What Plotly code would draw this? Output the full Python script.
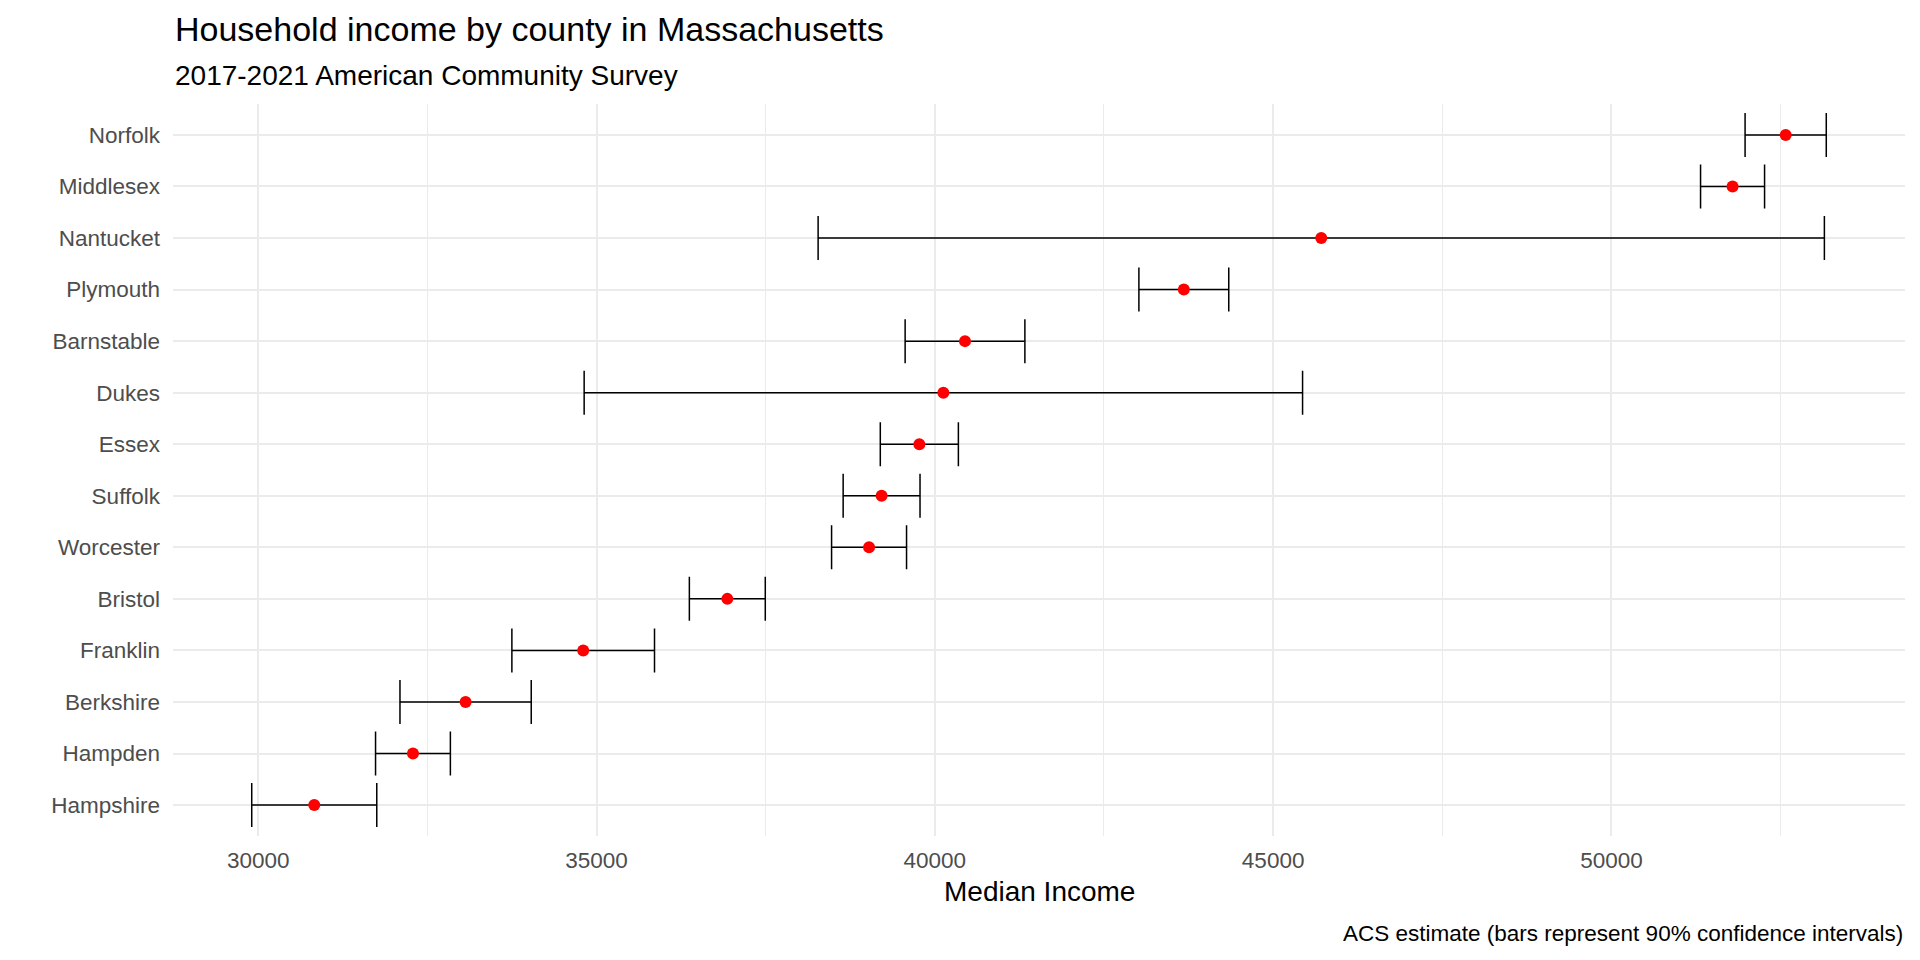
import plotly.graph_objects as go

counties = ["Norfolk", "Middlesex", "Nantucket", "Plymouth", "Barnstable", "Dukes",
            "Essex", "Suffolk", "Worcester", "Bristol", "Franklin", "Berkshire",
            "Hampden", "Hampshire"]
estimate = [52575, 51790, 45711, 43680, 40446, 40126, 39771, 39213, 39028, 36933,
            34803, 33065, 32287, 30828]
moe = [600, 473, 7436, 664, 885, 5309, 577, 568, 554, 561, 1054, 970, 553, 924]
x_ticks = [30000, 35000, 40000, 45000, 50000]

lo = min(e - m for e, m in zip(estimate, moe))
hi = max(e + m for e, m in zip(estimate, moe))
pad = (hi - lo) * 0.05
x_range = [lo - pad, hi + pad]

W, H = 1920, 960
ML, MR, MT, MB = 173, 15, 104, 124
ph = H - MT - MB


def py(px):
    return (H - MB - px) / ph


FONT = "Liberation Sans, Arial, sans-serif"

fig = go.Figure()
fig.add_trace(go.Scatter(
    x=estimate, y=counties, mode="markers",
    marker=dict(color="red", size=12, line=dict(width=0)),
    error_x=dict(type="data", array=moe, symmetric=True, color="black",
                 thickness=1.5, width=22),
    showlegend=False, hoverinfo="x+y",
))

fig.update_layout(
    width=W, height=H,
    margin=dict(l=ML, r=MR, t=MT, b=MB),
    paper_bgcolor="white", plot_bgcolor="white",
    font=dict(family=FONT, color="black"),
    xaxis=dict(
        range=x_range, tickvals=x_ticks, ticktext=[str(v) for v in x_ticks],
        showgrid=True, gridcolor="#EBEBEB", gridwidth=1.8,
        minor=dict(dtick=2500, tick0=27500, showgrid=True, gridcolor="#EBEBEB", gridwidth=0.9),
        zeroline=False, showline=False, ticks="",
        tickfont=dict(size=22.5, color="#4D4D4D", family=FONT),
        ticklabelstandoff=8,
    ),
    yaxis=dict(
        categoryorder="array", categoryarray=counties[::-1],
        range=[-0.6, len(counties) - 0.4],
        showgrid=True, gridcolor="#EBEBEB", gridwidth=1.8,
        zeroline=False, showline=False, ticks="",
        tickfont=dict(size=22.5, color="#4D4D4D", family=FONT),
        ticklabelstandoff=12,
    ),
    annotations=[
        dict(text="Household income by county in Massachusetts", xref="paper", yref="paper",
             x=0, y=py(29), xanchor="left", yanchor="middle", showarrow=False,
             font=dict(size=34, color="black", family=FONT)),
        dict(text="2017-2021 American Community Survey", xref="paper", yref="paper",
             x=0, y=py(76), xanchor="left", yanchor="middle", showarrow=False,
             font=dict(size=28, color="black", family=FONT)),
        dict(text="Median Income", xref="paper", yref="paper",
             x=0.5, y=py(891), xanchor="center", yanchor="middle", showarrow=False,
             font=dict(size=28, color="black", family=FONT)),
        dict(text="ACS estimate (bars represent 90% confidence intervals)", xref="paper", yref="paper",
             x=1, y=py(933), xanchor="right", yanchor="middle", showarrow=False,
             font=dict(size=22.5, color="black", family=FONT)),
    ],
)

fig.write_html("out.html")
